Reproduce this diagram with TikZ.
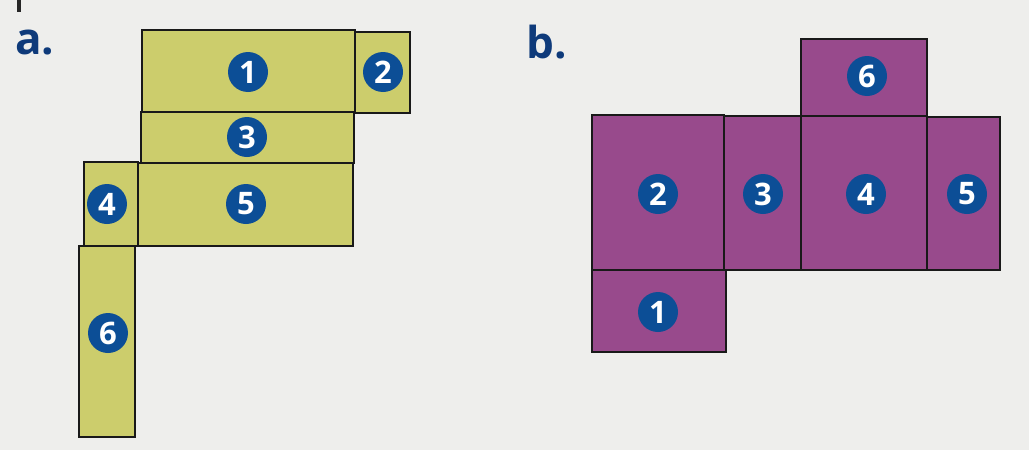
\documentclass[tikz,border=0pt]{standalone}
\usepackage{fontspec}
\setsansfont{Open Sans}
\definecolor{bgpage}{RGB}{238,238,236}
\definecolor{netyellow}{RGB}{204,205,108}
\definecolor{netpurple}{RGB}{152,74,140}
\definecolor{numblue}{RGB}{12,78,150}
\definecolor{labelblue}{RGB}{14,58,122}
\begin{document}
\begin{tikzpicture}[x=1pt,y=-1pt,
  faceA/.style={fill=netyellow,draw=black!90,line width=2.4pt,line join=miter},
  faceB/.style={fill=netpurple,draw=black!90,line width=2.4pt,line join=miter},
  num/.style={circle,fill=numblue,minimum size=40pt,inner sep=0pt,text=white,font=\sffamily\bfseries\fontsize{31}{31}\selectfont},
  partlabel/.style={anchor=base west,inner sep=0pt,text=labelblue,font=\sffamily\bfseries\fontsize{44}{44}\selectfont}]
\fill[bgpage] (0,0) rectangle (1029,450);
\useasboundingbox (0,0) rectangle (1029,450);
\fill[black!85] (17,0) rectangle (21,12);
% part a
\node[partlabel] (la) at (15,54) {a.};
\filldraw[faceA] (142,30) rectangle (355,112);
\filldraw[faceA] (355,32) rectangle (410,113);
\filldraw[faceA] (141,112) rectangle (354,163);
\filldraw[faceA] (84,162) rectangle (138,246);
\filldraw[faceA] (138,163) rectangle (353,246);
\filldraw[faceA] (79,246) rectangle (135,437);
\node[num] (a1) at (248,72) {1};
\node[num] (a2) at (383,72) {2};
\node[num] (a3) at (247,137) {3};
\node[num] (a4) at (107,204) {4};
\node[num] (a5) at (246,204) {5};
\node[num] (a6) at (108,333) {6};
% part b
\node[partlabel] (lb) at (526,58) {b.};
\filldraw[faceB] (801,39) rectangle (927,116);
\filldraw[faceB] (592,115) rectangle (724,270);
\filldraw[faceB] (724,116) rectangle (801,270);
\filldraw[faceB] (801,116) rectangle (927,270);
\filldraw[faceB] (927,117) rectangle (1000,270);
\filldraw[faceB] (592,270) rectangle (726,352);
\node[num] (b6) at (867,76) {6};
\node[num] (b2) at (658,194) {2};
\node[num] (b3) at (763,194) {3};
\node[num] (b4) at (866,194) {4};
\node[num] (b5) at (967,194) {5};
\node[num] (b1) at (658,312) {1};
\end{tikzpicture}
\end{document}
